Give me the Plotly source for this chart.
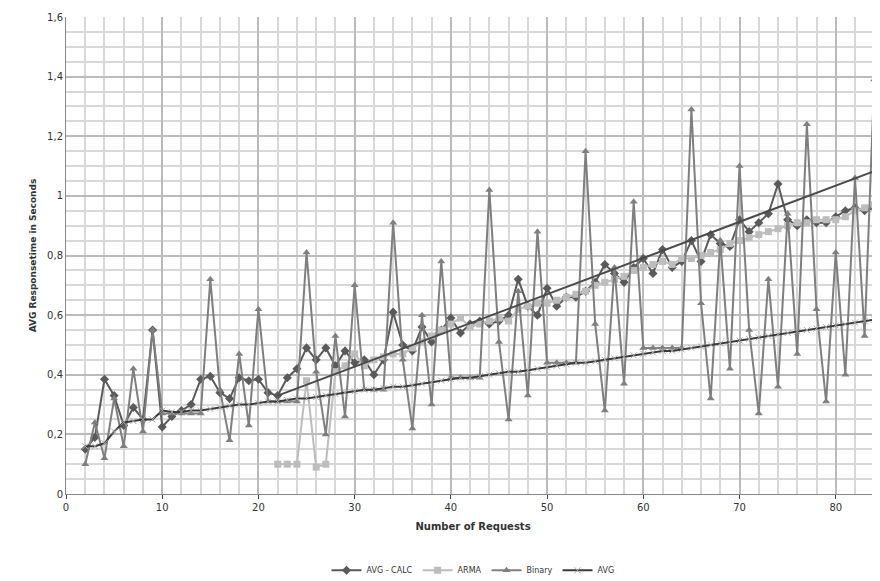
import plotly.graph_objects as go

x = list(range(2, 86))
avg_calc = [.15,.19,.385,.33,.23,.29,.25,.55,.225,.26,.28,.30,.385,.395,.34,.32,.39,.38,.385,.34,.33,.39,.42,.49,.45,.49,.43,.48,.44,.45,.40,.45,.61,.50,.48,.56,.51,.55,.59,.54,.57,.58,.57,.58,.60,.72,.63,.60,.69,.63,.66,.66,.68,.71,.77,.74,.71,.76,.79,.74,.82,.76,.78,.85,.78,.87,.84,.83,.92,.88,.91,.94,1.04,.92,.90,.92,.91,.91,.93,.95,.96,.95,.96,1.0]
arma_x = list(range(22, 86))
arma = [.10,.10,.10,.38,.09,.10,.41,.43,.47,.43,.45,.46,.47,.47,.49,.51,.53,.55,.57,.59,.56,.57,.58,.59,.58,.62,.63,.64,.64,.65,.66,.67,.68,.70,.71,.72,.73,.75,.76,.77,.78,.77,.79,.79,.80,.81,.82,.84,.85,.86,.87,.88,.89,.90,.91,.91,.92,.92,.92,.93,.95,.96,.97,.97]
binary = [.10,.24,.12,.32,.16,.42,.21,.55,.27,.27,.27,.27,.27,.72,.35,.18,.47,.23,.62,.31,.31,.31,.31,.81,.41,.20,.53,.26,.70,.35,.35,.35,.91,.45,.22,.60,.30,.78,.39,.39,.39,.39,1.02,.51,.25,.68,.33,.88,.44,.44,.44,.44,1.15,.57,.28,.76,.37,.98,.49,.49,.49,.49,.49,1.29,.64,.32,.85,.42,1.10,.55,.27,.72,.36,.94,.47,1.24,.62,.31,.81,.40,1.06,.53,1.39,.69]
avg = [.16,.16,.17,.21,.24,.245,.25,.25,.28,.275,.275,.28,.28,.285,.29,.295,.30,.30,.305,.31,.31,.315,.32,.32,.325,.33,.335,.34,.345,.35,.35,.355,.36,.36,.365,.37,.375,.38,.385,.39,.39,.395,.40,.405,.41,.41,.415,.42,.425,.43,.435,.44,.44,.445,.45,.455,.46,.465,.47,.475,.48,.48,.485,.49,.495,.50,.505,.51,.515,.52,.525,.53,.535,.54,.545,.55,.555,.56,.565,.57,.575,.58,.585,.595]
trend_x = [22, 85.4]
trend_y = [0.33, 1.10]
yticks = [0, 0.2, 0.4, 0.6, 0.8, 1.0, 1.2, 1.4, 1.6]
ytext = ["0", "0,2", "0,4", "0,6", "0,8", "1", "1,2", "1,4", "1,6"]

fig = go.Figure()
fig.add_trace(go.Scatter(x=x, y=avg_calc, name="AVG - CALC", mode="lines+markers",
    line=dict(color="#5a5a5a", width=2), marker=dict(symbol="diamond", size=7, color="#5a5a5a")))
fig.add_trace(go.Scatter(x=arma_x, y=arma, name="ARMA", mode="lines+markers",
    line=dict(color="#bdbdbd", width=2), marker=dict(symbol="square", size=7, color="#bdbdbd")))
fig.add_trace(go.Scatter(x=x, y=binary, name="Binary", mode="lines+markers",
    line=dict(color="#7f7f7f", width=2), marker=dict(symbol="triangle-up", size=7, color="#7f7f7f")))
fig.add_trace(go.Scatter(x=x, y=avg, name="AVG", mode="lines+markers",
    line=dict(color="#3a3a3a", width=2), marker=dict(symbol="x-thin", size=6, line=dict(color="#aaaaaa", width=1))))
fig.add_trace(go.Scatter(x=trend_x, y=trend_y, mode="lines", showlegend=False,
    line=dict(color="#4a4a4a", width=2)))

fig.update_layout(
    width=872, height=573, margin=dict(l=58, r=0, t=9, b=87, autoexpand=False),
    plot_bgcolor="white", paper_bgcolor="white",
    font=dict(family="DejaVu Sans", size=10, color="#333"),
    legend=dict(orientation="h", x=0.5, xanchor="center", y=-0.16, yanchor="middle", font=dict(size=8)),
    xaxis=dict(range=[0, 84.6], dtick=10, showgrid=True, gridcolor="#bbbbbb", gridwidth=1.5, automargin=False,
        minor=dict(dtick=2, showgrid=True, gridcolor="#d8d8d8"), zeroline=False,
        showline=True, linecolor="#888", ticks="outside", ticklen=4,
        title=dict(text="<b>Number of Requests</b>", font=dict(size=10), standoff=10)),
    yaxis=dict(range=[0, 1.6], tickvals=yticks, ticktext=ytext, showgrid=True, gridcolor="#bbbbbb", gridwidth=1.5, automargin=False,
        minor=dict(dtick=0.05, showgrid=True, gridcolor="#d8d8d8"), zeroline=False,
        showline=True, linecolor="#888",
        title=dict(text="<b>AVG Responsetime in Seconds</b>", font=dict(size=9), standoff=8)),
)
fig.write_html("out.html")
